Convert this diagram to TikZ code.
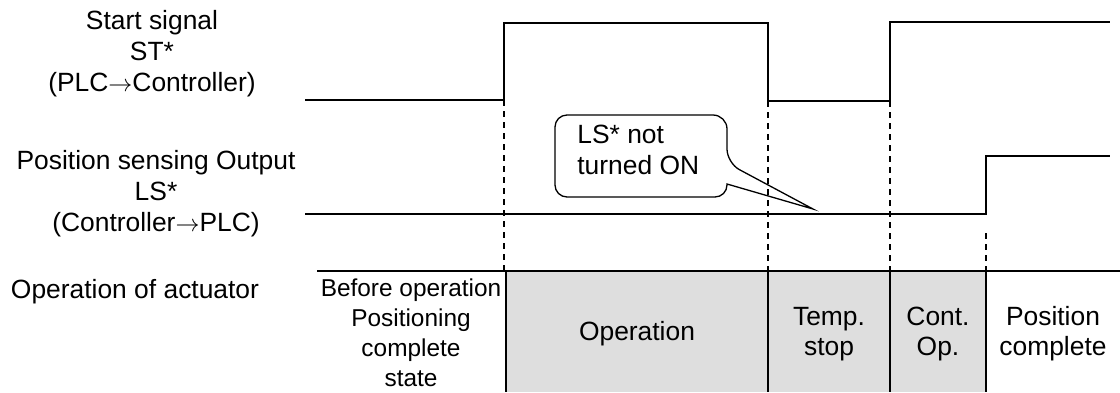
\documentclass[tikz,border=0pt]{standalone}
\usepackage{fontspec}
\setmainfont{Liberation Sans}
\usetikzlibrary{positioning}
\definecolor{cellgray}{HTML}{DEDEDE}
\begin{document}
\begin{tikzpicture}[x=0.5pt, y=-0.5pt, font=\fontsize{13.2}{15.5}\selectfont, lbl/.style={align=center, inner sep=0pt}, cell/.style={lbl, font=\fontsize{13.2}{15}\selectfont}, sig/.style={line width=0.7pt}, guide/.style={line width=0.65pt, dash pattern=on 3pt off 2.5pt}, rule/.style={line width=1pt}, callout/.style={line width=0.65pt}]
\useasboundingbox (0,0) rectangle (1120,392);
\fill[cellgray] (506,271) rectangle (986,392);
\node[lbl] (stlbl) at (152,54) {Start signal\\ST*\\(PLC$\rightarrow$Controller)};
\node[lbl] (lslbl) at (156,194) {Position sensing Output\\LS*\\(Controller$\rightarrow$PLC)};
\node[lbl] (actlbl) at (135,292) {Operation of actuator};
\draw[sig] (305,100) -- (504,100) coordinate (st1) -- (504,23) -- (768,23) -- (768,101) coordinate (st2) -- (890,101) coordinate (st3) -- (890,22) -- (1110,22);
\draw[sig] (305,214) -- (986,214) -- (986,156) -- (1110,156);
\coordinate (ls1) at (986,233);
\draw[rule] (317,271) coordinate (tabtop) -- (1120,271);
\foreach \x in {506,768,890,986} \draw[rule] (\x,271) -- (\x,392);
\draw[guide] (st1) -- (st1 |- tabtop); \draw[guide] (st2) -- (st2 |- tabtop); \draw[guide] (st3) -- (st3 |- tabtop); \draw[guide] (ls1) -- (ls1 |- tabtop);
\node[cell, font=\fontsize{12.2}{15}\selectfont] (before) at (411,333) {Before operation\\Positioning\\complete\\state};
\node[cell] (oper) at (637,334) {Operation};
\node[cell] (tstop) at (829,334) {Temp.\\stop};
\node[cell] (contop) at (938,334) {Cont.\\Op.};
\node[cell] (poscomp) at (1053,334) {Position\\complete};
\coordinate (lstip) at (813,209);
\draw[callout, rounded corners=7pt] (555,115) -- (727,115) -- (727,163) [sharp corners] -- (lstip) -- (727,184) [rounded corners=6pt] -- (727,197) -- (555,197) -- cycle;
\node[lbl, align=left, anchor=west] (lsnote) at (577,150) {LS* not\\turned ON};
\end{tikzpicture}
\end{document}
